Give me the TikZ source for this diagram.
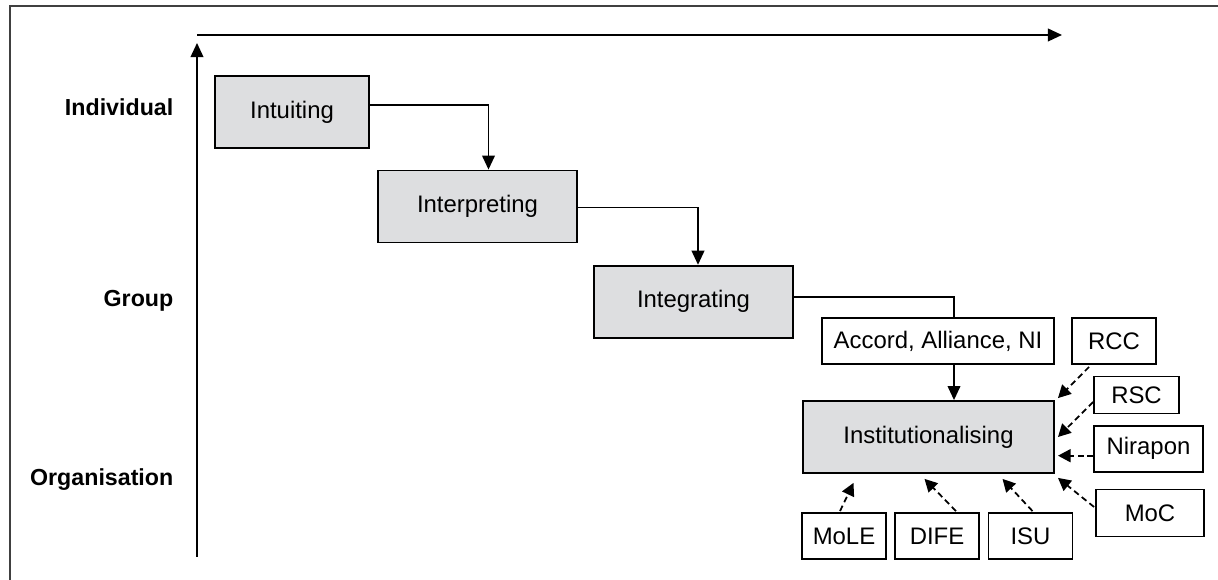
\documentclass[tikz,border=0pt]{standalone}
\usepackage{fontspec}
\setmainfont{Liberation Sans}
\usetikzlibrary{arrows.meta,calc}
\definecolor{grisboite}{RGB}{221,222,224}
\begin{document}
\begin{tikzpicture}[x=0.01cm, y=-0.01cm]
\tikzset{etape/.style={draw, fill=grisboite, line width=0.5pt, inner sep=0pt, minimum height=7.2mm, font=\fontsize{6.8}{8}\selectfont},
         acteur/.style={draw, fill=white, line width=0.5pt, inner sep=0pt, minimum height=4.6mm, font=\fontsize{6.8}{8}\selectfont},
         niveau/.style={anchor=east, inner sep=0pt, font=\fontsize{6.6}{8}\selectfont\bfseries},
         fleche/.style={line width=0.5pt, -{Triangle[length=4pt, width=3.6pt]}},
         tirets/.style={line width=0.5pt, dash pattern=on 1.7pt off 1.1pt, -{Triangle[length=3.6pt, width=3.7pt]}}}
\useasboundingbox (0,0) rectangle (1218,580);
\draw[line width=0.4pt, black!75] (10,580) -- (10,6) -- (1218,6);
% axes
\coordinate (A0) at (197,557);
\coordinate (A1) at (197,43);
\coordinate (B0) at (197,35);
\coordinate (B1) at (1062,35);
\draw[fleche] (A0) -- (A1);
\draw[fleche] (B0) -- (B1);
\node[niveau] (N1) at (174,107) {Individual};
\node[niveau] (N2) at (174,301) {Group};
\node[niveau] (N3) at (174,480) {Organisation};
% etapes
\node[etape, minimum width=15.4mm] (I1) at (292,112) {Intuiting};
\node[etape, minimum width=19.9mm] (I2) at (477.5,206.5) {Interpreting};
\node[etape, minimum width=19.9mm] (I3) at (693.5,301.7) {Integrating};
\node[acteur, minimum width=23.2mm] (ACC) at (938,341) {Accord, Alliance, NI};
\node[etape, minimum width=25.1mm] (I4) at (928.5,437) {Institutionalising};
% acteurs
\node[acteur, minimum width=8.4mm] (RCC) at (1114,341) {RCC};
\node[acteur, minimum width=8.5mm, minimum height=3.7mm] (RSC) at (1136.5,395) {RSC};
\node[acteur, minimum width=10.85mm] (NIR) at (1148.5,448.7) {Nirapon};
\node[acteur, minimum width=10.8mm, minimum height=4.7mm] (MOC) at (1150,513) {MoC};
\node[acteur, minimum width=8.4mm] (MOLE) at (844,536) {MoLE};
\node[acteur, minimum width=8.4mm] (DIFE) at (937,536) {DIFE};
\node[acteur, minimum width=8.4mm] (ISU) at (1030.5,536) {ISU};
% liens
\draw[fleche] ($(I1.east)+(0,-7)$) -| ($(I2.north)+(11,0)$);
\draw[fleche] ($(I2.east)+(0,1)$) -| ($(I3.north)+(4.5,0)$);
\draw[line width=0.5pt] ($(I3.east)+(0,-4.7)$) -| ($(ACC.north)+(16,0)$);
\draw[fleche] ($(ACC.south)+(16,0)$) -- ($(I4.north)+(25.5,0)$);
\draw[tirets] ($(RCC.south west)+(18,2)$) -- ($(I4.north east)+(3,-2)$);
\draw[tirets] ($(RSC.west)+(0,7)$) -- ($(I4.east)+(3,0)$);
\draw[tirets] ($(NIR.west)+(0,7)$) -- ($(I4.east)+(3,18.7)$);
\draw[tirets] ($(MOC.west)+(-1,-6)$) -- ($(I4.south east)+(3,4)$);
\draw[tirets] ($(MOLE.north)+(-4,-1)$) -- ($(I4.south)+(-75,9)$);
\draw[tirets] ($(DIFE.north)+(19,-1)$) -- ($(I4.south)+(-4,5)$);
\draw[tirets] ($(ISU.north)+(2,-1)$) -- ($(I4.south)+(74,5)$);
\end{tikzpicture}
\end{document}
